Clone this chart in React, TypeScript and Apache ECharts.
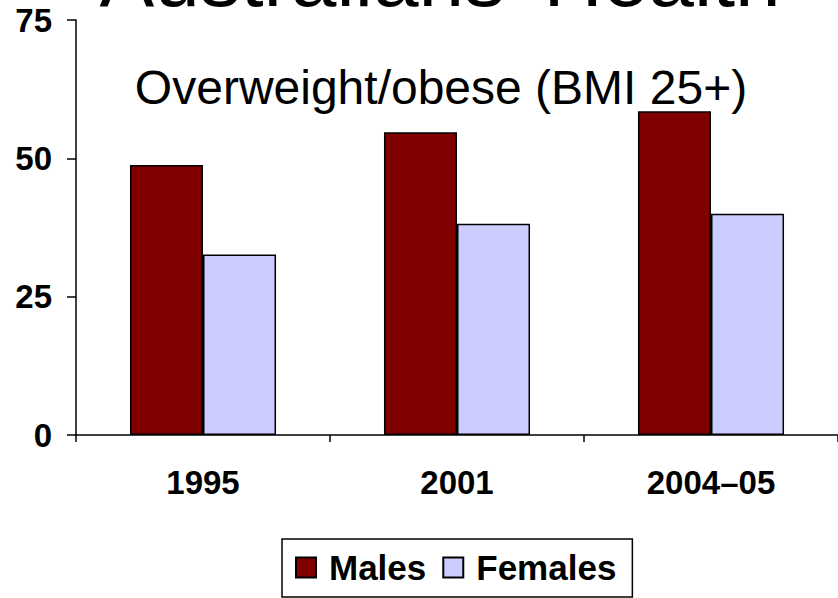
import React, { useEffect, useRef } from "react";
import * as echarts from "echarts";

const categories = ["1995", "2001", "2004–05"];
const males = [48.8, 54.7, 58.5];
const females = [32.6, 38.2, 40.0];
const yTicks = { min: 0, max: 75, interval: 25 };
const titleText = "Australians' Health";
const subtitleText = "Overweight/obese (BMI 25+)";

const FONT = "'Liberation Sans', Arial, sans-serif";

export default function App() {
  const ref = useRef<HTMLDivElement>(null);
  useEffect(() => {
    if (!ref.current) return;
    const chart = echarts.init(ref.current, undefined, { renderer: "svg" });
    chart.setOption({
      animation: false,
      backgroundColor: "#ffffff",
      grid: { left: 76, right: 0, top: 20, bottom: 163, containLabel: false },
      graphic: [
        {
          type: "text",
          x: 440,
          y: -23,
          style: {
            text: titleText,
            font: `82px ${FONT}`,
            fill: "#000",
            align: "center",
            verticalAlign: "middle",
          },
        },
        {
          type: "text",
          x: 441,
          y: 87,
          style: {
            text: subtitleText,
            font: `48px ${FONT}`,
            fill: "#000",
            align: "center",
            verticalAlign: "middle",
          },
        },
      ],
      legend: {
        left: 282,
        top: 539,
        padding: [11, 16, 12, 13],
        borderColor: "#000",
        borderWidth: 1.5,
        itemWidth: 20,
        itemHeight: 20,
        itemGap: 16,
        icon: "rect",
        textStyle: {
          fontFamily: FONT,
          fontWeight: "bold",
          fontSize: 35,
          color: "#000",
          padding: [0, 0, 0, 8],
        },
        data: ["Males", "Females"],
      },
      xAxis: {
        type: "category",
        data: categories,
        boundaryGap: true,
        axisLine: { lineStyle: { color: "#000", width: 1.5 } },
        axisTick: { show: true, length: 7, interval: 0, lineStyle: { color: "#000", width: 1.5 } },
        axisLabel: {
          interval: 0,
          margin: 31,
          fontFamily: FONT,
          fontWeight: "bold",
          fontSize: 33,
          color: "#000",
        },
      },
      yAxis: {
        type: "value",
        min: yTicks.min,
        max: yTicks.max,
        interval: yTicks.interval,
        splitLine: { show: false },
        axisLine: { show: true, lineStyle: { color: "#000", width: 1.5 } },
        axisTick: { show: true, length: 9, lineStyle: { color: "#000", width: 1.5 } },
        axisLabel: {
          margin: 24,
          fontFamily: FONT,
          fontWeight: "bold",
          fontSize: 33,
          color: "#000",
        },
      },
      series: [
        {
          name: "Males",
          type: "bar",
          data: males,
          barGap: "0%",
          barCategoryGap: "42.5%",
          itemStyle: { color: "#800000", borderColor: "#000", borderWidth: 1.5 },
        },
        {
          name: "Females",
          type: "bar",
          data: females,
          itemStyle: { color: "#CCCCFF", borderColor: "#000", borderWidth: 1.5 },
        },
      ],
    });
    return () => chart.dispose();
  }, []);
  return (
    <div
      ref={ref}
      style={{ position: "fixed", left: 0, top: 0, width: 838, height: 598 }}
    />
  );
}
